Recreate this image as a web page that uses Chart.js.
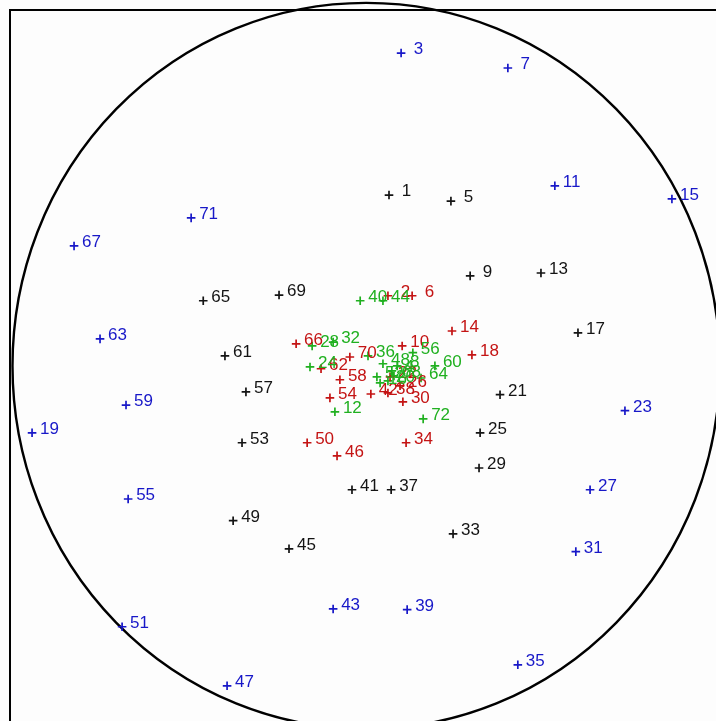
<!DOCTYPE html>
<html>
<head>
<meta charset="utf-8">
<script src="https://cdn.jsdelivr.net/npm/chart.js@4/dist/chart.umd.min.js"></script>
<style>
  html, body { margin: 0; padding: 0; background: #fdfdfd; }
  #wrap { width: 716px; height: 721px; }
</style>
</head>
<body>
<div id="wrap"><canvas id="skyChart" width="716" height="721"></canvas></div>
<script>
  // horizon ring in plot units (drawn slightly oval, as in the scan)
  var horizonCenterX = 0.9;
  var horizonRx = 99.4;
  var horizonRy = 102;

  // blue set (3, 7, 11 ...)
  var blueIds = [3, 7, 11, 15, 19, 23, 27, 31, 35, 39, 43, 47, 51, 55, 59, 63, 67, 71];
  var blueX = [10.7, 40.7, 53.9, 86.8, -93.0, 73.6, 63.8, 59.8, 43.5, 12.4, -8.4, -38.2, -67.7, -66.0, -66.6, -73.9, -81.2, -48.3];
  var blueY = [87.9, 83.7, 50.6, 46.9, -18.8, -12.6, -34.8, -52.2, -84.0, -68.5, -68.3, -89.9, -73.3, -37.4, -11.0, 7.6, 33.7, 41.6];

  // black set (1, 5, 9 ...)
  var blackIds = [1, 5, 9, 13, 17, 21, 25, 29, 33, 37, 41, 45, 49, 53, 57, 61, 65, 69];
  var blackX = [7.3, 24.7, 30.1, 50.0, 60.4, 38.5, 32.9, 32.6, 25.3, 7.9, -3.1, -20.8, -36.5, -34.0, -32.9, -38.8, -44.9, -23.6];
  var blackY = [48.0, 46.3, 25.3, 26.1, 9.3, -8.1, -18.8, -28.7, -47.2, -34.8, -34.8, -51.4, -43.5, -21.6, -7.3, 2.8, 18.3, 19.9];

  // red set (2, 6, 10 ...)
  var redIds = [2, 6, 10, 14, 18, 22, 26, 30, 34, 38, 42, 46, 50, 54, 58, 62, 66, 70];
  var redX = [7.0, 13.8, 11.0, 25.0, 30.6, 7.6, 10.4, 11.2, 12.1, 7.0, 2.2, -7.3, -15.7, -9.3, -6.5, -11.8, -18.8, -3.7];
  var redY = [19.7, 19.7, 5.6, 9.8, 3.1, -3.1, -5.6, -10.1, -21.6, -7.6, -7.9, -25.3, -21.6, -9.0, -3.9, -0.8, 6.2, 2.5];

  // green set (4, 8, 12 ...)
  var greenIds = [4, 8, 12, 16, 20, 24, 28, 32, 36, 40, 44, 48, 52, 56, 60, 64, 68, 72];
  var greenX = [8.1, 9.6, -7.9, 4.8, 7.0, -14.9, -14.3, -8.4, 1.4, -0.8, 5.6, 5.6, 3.9, 14.0, 20.2, 16.3, 8.7, 16.9];
  var greenY = [-1.4, 0.0, -12.9, -4.8, -4.2, -0.3, 5.6, 6.7, 2.8, 18.3, 18.3, 0.6, -3.1, 3.7, 0.0, -3.4, -2.8, -14.9];

  function makeSet(name, ids, xs, ys, color) {
      var pts = [];
      for (var i = 0; i < ids.length; i++) {
          pts.push({ x: xs[i], y: ys[i], id: ids[i] });
      }
      return {
          label: name,
          data: pts,
          pointStyle: 'cross',
          pointRadius: 4.3,
          pointBorderWidth: 1.7,
          borderColor: color,
          backgroundColor: color
      };
  }

  // horizon ring + frame (left / top edges only are visible)
  var circlePlugin = {
      id: 'horizon',
      beforeDatasetsDraw: function(chart) {
          var ctx = chart.ctx;
          var xs = chart.scales.x, ys = chart.scales.y;
          var cx = xs.getPixelForValue(horizonCenterX);
          var cy = ys.getPixelForValue(0);
          var rx = xs.getPixelForValue(horizonCenterX + horizonRx) - cx;
          var ry = cy - ys.getPixelForValue(horizonRy);
          ctx.save();
          ctx.strokeStyle = '#000';
          ctx.lineWidth = 2.4;
          ctx.beginPath();
          ctx.ellipse(cx, cy, rx, ry, 0, 0, Math.PI * 2);
          ctx.stroke();

          var a = chart.chartArea;
          ctx.lineWidth = 2;
          ctx.beginPath();
          ctx.moveTo(a.left, chart.height);
          ctx.lineTo(a.left, a.top);
          ctx.lineTo(chart.width, a.top);
          ctx.stroke();
          ctx.restore();
      }
  };

  // number next to every marker
  var labelPlugin = {
      id: 'pointLabels',
      afterDatasetsDraw: function(chart) {
          var ctx = chart.ctx;
          ctx.save();
          ctx.font = '17px "Liberation Sans", Arial, sans-serif';
          ctx.textAlign = 'left';
          ctx.textBaseline = 'alphabetic';
          chart.data.datasets.forEach(function(ds, di) {
              var meta = chart.getDatasetMeta(di);
              ctx.fillStyle = ds.borderColor;
              meta.data.forEach(function(el, i) {
                  var id = ds.data[i].id;
                  var txt = id < 10 ? ' ' + id : '' + id;
                  ctx.fillText(txt, el.x + 8, el.y + 1);
              });
          });
          ctx.restore();
      }
  };

  var skyCanvas = document.getElementById('skyChart').getContext('2d');
  var skyChart = new Chart(skyCanvas, {
      type: 'scatter',
      data: {
          datasets: [
              makeSet('blue', blueIds, blueX, blueY, '#1818c8'),
              makeSet('black', blackIds, blackX, blackY, '#141414'),
              makeSet('red', redIds, redX, redY, '#c41414'),
              makeSet('green', greenIds, greenX, greenY, '#20b020')
          ]
      },
      options: {
          responsive: false,
          animation: false,
          layout: { padding: { left: 10, top: 10, right: 0, bottom: 0 } },
          plugins: { legend: { display: false }, tooltip: { enabled: false } },
          scales: {
              x: { type: 'linear', display: false, min: -99.2, max: 97.5 },
              y: { type: 'linear', display: false, min: -98.1, max: 100 }
          }
      },
      plugins: [circlePlugin, labelPlugin]
  });
</script>
</body>
</html>
